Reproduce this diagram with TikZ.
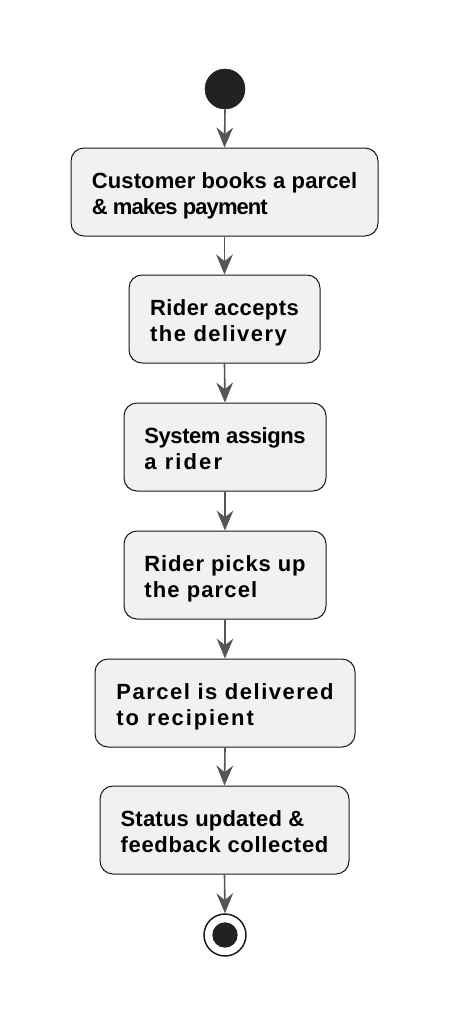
\documentclass[tikz,border=0pt]{standalone}
\usepackage{fontspec}
\setmainfont{Liberation Sans}
\usetikzlibrary{arrows.meta}
\definecolor{boxfill}{HTML}{F1F1F1}
\definecolor{boxline}{HTML}{181818}
\definecolor{arrowcol}{HTML}{555555}
\definecolor{dotcol}{HTML}{222222}
\newcommand{\lsp}[2]{{\addfontfeatures{LetterSpace=#1}#2}}
\newcommand{\fixht}{\vphantom{Ay}}
\tikzset{
  act/.style={draw=boxline, line width=0.75pt, fill=boxfill, rounded corners=9.75pt,
    minimum height=66pt, inner sep=0pt},
  acttext/.style={align=left, inner sep=0pt, yshift=-2.5pt,
    font=\fontsize{16.5}{19.5}\selectfont\bfseries},
  flow/.style={draw=arrowcol, line width=1.2pt,
    -{Stealth[length=15pt, width=12.5pt, inset=5pt]}},
  startdot/.style={circle, fill=dotcol, draw=dotcol, minimum size=30pt, inner sep=0pt},
  endring/.style={circle, fill=white, draw=boxline, line width=1.1pt, minimum size=31.5pt, inner sep=0pt},
  enddot/.style={circle, fill=dotcol, minimum size=19pt, inner sep=0pt},
}
\begin{document}
\begin{tikzpicture}[x=0.75pt, y=-0.75pt]
\useasboundingbox (0,0) rectangle (450,1028);
\node[startdot] (start) at (225,89) {};
\node[act, minimum width=230.25pt] (a1) at (224.5,192) {};
\node[acttext] (t1) at (a1) {\fixht\lsp{0.6}{Customer books a parcel}\\\lsp{-4.2}{\& makes payment}\fixht};
\node[act, minimum width=143.25pt] (a2) at (224.5,319) {};
\node[acttext] (t2) at (a2) {\fixht\lsp{1.8}{Rider accepts}\\\lsp{6.5}{the delivery}\fixht};
\node[act, minimum width=151.5pt] (a3) at (225,447) {};
\node[acttext] (t3) at (a3) {\fixht\lsp{-1.9}{System assigns}\\\lsp{9.6}{a rider}\fixht};
\node[act, minimum width=151.5pt] (a4) at (225,575) {};
\node[acttext] (t4) at (a4) {\fixht\lsp{4}{Rider picks up}\\\lsp{5.1}{the parcel}\fixht};
\node[act, minimum width=195pt] (a5) at (225,703) {};
\node[acttext] (t5) at (a5) {\fixht\lsp{6.8}{Parcel is delivered}\\\lsp{8.6}{to recipient}\fixht};
\node[act, minimum width=186.75pt] (a6) at (224.5,830) {};
\node[acttext] (t6) at (a6) {\fixht\lsp{1}{Status updated \&}\\\lsp{3.1}{feedback collected}\fixht};
\node[endring] (stop) at (225,935) {};
\node[enddot] (stopdot) at (225,935) {};
\draw[flow] (start.south) -- (a1.north);
\draw[flow] (a1.south) -- (a2.north);
\draw[flow] (a2.south) -- (a3.north);
\draw[flow] (a3.south) -- (a4.north);
\draw[flow] (a4.south) -- (a5.north);
\draw[flow] (a5.south) -- (a6.north);
\draw[flow] (a6.south) -- (stop.north);
\end{tikzpicture}
\end{document}
